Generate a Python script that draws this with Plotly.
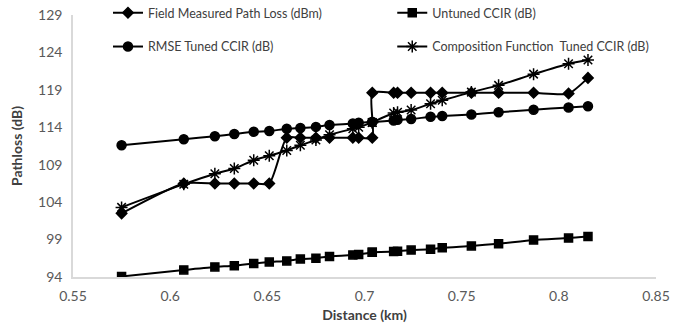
import plotly.graph_objects as go

distance_km = [0.575, 0.607, 0.623, 0.633, 0.643, 0.651, 0.660, 0.667, 0.675, 0.682, 0.694, 0.697,
               0.704, 0.704, 0.715, 0.717, 0.724, 0.734, 0.740, 0.755, 0.769, 0.787, 0.805, 0.815]
field_measured = [102.5, 106.5, 106.5, 106.5, 106.5, 106.5, 112.6, 112.6, 112.6, 112.6, 112.6, 112.6,
                  112.6, 118.6, 118.6, 118.6, 118.6, 118.6, 118.6, 118.6, 118.6, 118.6, 118.5, 120.6]
untuned_ccir = [94.07, 94.95, 95.35, 95.5, 95.8, 96.0, 96.15, 96.4, 96.5, 96.75, 96.95, 97.0,
                97.3, 97.3, 97.4, 97.45, 97.6, 97.7, 97.9, 98.15, 98.45, 98.95, 99.2, 99.4]
rmse_tuned = [111.6, 112.4, 112.8, 113.1, 113.4, 113.5, 113.8, 113.9, 114.05, 114.3, 114.5, 114.6,
              114.7, 114.7, 114.9, 115.0, 115.1, 115.4, 115.5, 115.7, 116.0, 116.35, 116.65, 116.8]
composition_tuned = [103.3, 106.4, 107.8, 108.5, 109.6, 110.2, 110.9, 111.6, 112.3, 113.0, 113.8, 114.0,
                     114.65, 114.65, 115.9, 116.0, 116.3, 117.15, 117.6, 118.7, 119.6, 121.1, 122.5, 123.0]

x_ticks = [0.55, 0.6, 0.65, 0.7, 0.75, 0.8, 0.85]
x_tick_labels = ["0.55", "0.6", "0.65", "0.7", "0.75", "0.8", "0.85"]
y_ticks = [94, 99, 104, 109, 114, 119, 124, 129]

series = [
    ("Field Measured Path Loss (dBm)", field_measured, "diamond", 8, "legend"),
    ("Untuned CCIR (dB)", untuned_ccir, "square", 8, "legend2"),
    ("RMSE Tuned CCIR (dB)", rmse_tuned, "circle", 9, "legend3"),
    ("Composition Function  Tuned CCIR (dB)", composition_tuned, "asterisk-open", 10, "legend4"),
]

fig = go.Figure()
for name, vals, sym, size, leg in series:
    fig.add_trace(go.Scatter(
        x=distance_km, y=vals, name=name, mode="lines+markers",
        line=dict(color="black", width=2, shape="spline", smoothing=0.6),
        marker=dict(symbol=sym, size=size, color="black", line=dict(color="black", width=1.5)),
        legend=leg,
    ))

font_family = "Lato, Open Sans, sans-serif"
leg_common = dict(font=dict(family=font_family, size=12.5, color="#404040"), bgcolor="rgba(0,0,0,0)",
                  xanchor="left", yanchor="middle", yref="container", itemwidth=30, borderwidth=0)

fig.update_layout(
    width=678, height=328,
    margin=dict(l=73, r=22, t=15, b=51, autoexpand=False),
    paper_bgcolor="white", plot_bgcolor="white",
    font=dict(family=font_family, color="#595959"),
    showlegend=True,
    legend=dict(x=0.060, y=0.960, **leg_common),
    legend2=dict(x=0.5476, y=0.960, **leg_common),
    legend3=dict(x=0.060, y=0.857, **leg_common),
    legend4=dict(x=0.5476, y=0.857, **leg_common),
    xaxis=dict(range=[0.55, 0.85], tickvals=x_ticks, ticktext=x_tick_labels, showgrid=False,
               showline=True, linecolor="#d9d9d9", linewidth=1.5, zeroline=False, ticks="",
               ticklabelstandoff=5,
               tickfont=dict(size=14, color="#595959"),
               title=dict(text="<b>Distance (km)</b>", font=dict(size=14, color="#404040"), standoff=8)),
    yaxis=dict(range=[94, 129], tickvals=y_ticks, showgrid=False,
               showline=True, linecolor="#d9d9d9", linewidth=1.5, zeroline=False, ticks="",
               ticklabelstandoff=6,
               tickfont=dict(size=14, color="#595959"),
               title=dict(text="<b>Pathloss (dB)</b>", font=dict(size=14, color="#404040"), standoff=12)),
)

fig.write_html("out.html")
